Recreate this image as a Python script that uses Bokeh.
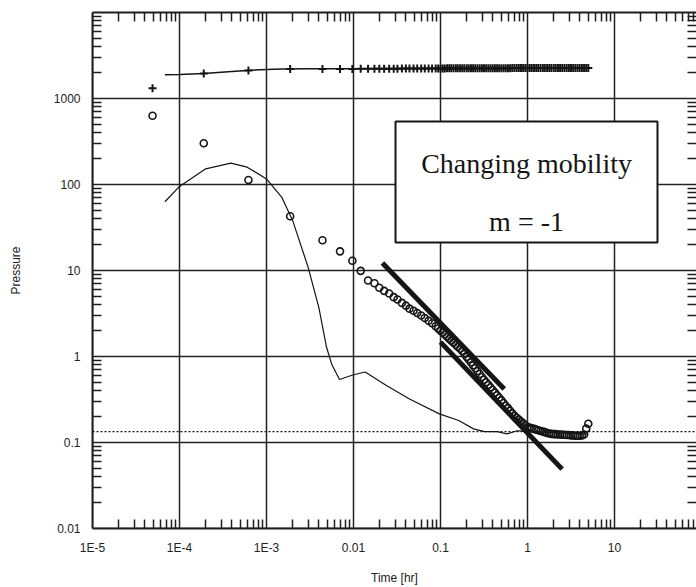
from bokeh.plotting import figure
from bokeh.models import FixedTicker, LogAxis, BoxAnnotation, Label, Span, CustomJSTickFormatter
from bokeh.embed import file_html
from bokeh.resources import INLINE

# ---------------- data ----------------
# measured points: time [hr], pressure ("+"), derivative ("o")
t_data = [4.9e-5, 1.9e-4, 6.2e-4, 1.87e-3, 4.4e-3, 7.0e-3, 9.7e-3, 0.0121, 0.0147, 0.0174,
          0.0198, 0.0225, 0.0257, 0.029, 0.032, 0.036, 0.040, 0.044, 0.049, 0.054,
          0.060, 0.066, 0.073, 0.080, 0.088, 0.094,
          0.100, 0.106, 0.112, 0.119, 0.126, 0.133, 0.141, 0.150, 0.158, 0.168,
          0.178, 0.188, 0.200, 0.211, 0.224, 0.237, 0.251, 0.266, 0.282, 0.299,
          0.316, 0.335, 0.355, 0.376, 0.398, 0.422, 0.447, 0.473, 0.501, 0.531,
          0.562, 0.596, 0.631, 0.668, 0.708, 0.750, 0.794, 0.841, 0.891, 0.944,
          1.00, 1.06, 1.12, 1.19, 1.26, 1.33, 1.41, 1.50, 1.58, 1.68,
          1.78, 1.88, 2.00, 2.11, 2.24, 2.37, 2.51, 2.66, 2.82, 2.99,
          3.16, 3.35, 3.55, 3.76, 3.98, 4.22, 4.47, 4.73, 5.0]
p_data = [1320, 1950, 2120, 2200, 2200, 2210, 2210, 2215, 2215, 2220,
          2220, 2220, 2225, 2225, 2225, 2230, 2230, 2230, 2230, 2235,
          2235, 2235, 2235, 2240, 2240, 2240,
          2240, 2240, 2240, 2242, 2242, 2244, 2244, 2245, 2245, 2246,
          2246, 2247, 2248, 2248, 2249, 2250, 2250, 2250, 2251, 2251,
          2252, 2252, 2252, 2253, 2253, 2253, 2254, 2254, 2254, 2255,
          2255, 2255, 2255, 2256, 2256, 2256, 2256, 2257, 2257, 2257,
          2257, 2258, 2258, 2258, 2258, 2258, 2259, 2259, 2259, 2259,
          2259, 2260, 2260, 2260, 2260, 2260, 2260, 2260, 2261, 2261,
          2261, 2261, 2261, 2262, 2262, 2262, 2262, 2262, 2262]
d_data = [630, 302, 113, 42.8, 22.5, 16.7, 13.0, 9.9, 7.65, 7.1,
          6.3, 5.8, 5.4, 4.9, 4.6, 4.2, 3.9, 3.6, 3.4, 3.2,
          3.0, 2.8, 2.6, 2.44, 2.25, 2.12,
          2.00, 1.90, 1.80, 1.70, 1.61, 1.53, 1.45, 1.37, 1.30, 1.23,
          1.16, 1.08, 0.99, 0.925, 0.853, 0.789, 0.730, 0.676, 0.625, 0.577,
          0.536, 0.501, 0.468, 0.437, 0.407, 0.380, 0.355, 0.331, 0.309, 0.288,
          0.268, 0.251, 0.234, 0.218, 0.204, 0.194, 0.185, 0.175, 0.167, 0.159,
          0.151, 0.149, 0.146, 0.144, 0.141, 0.139, 0.136, 0.134, 0.132, 0.129,
          0.127, 0.126, 0.125, 0.125, 0.124, 0.124, 0.123, 0.123, 0.122, 0.122,
          0.121, 0.121, 0.120, 0.120, 0.120, 0.121, 0.124, 0.145, 0.165]

# model pressure curve
model_t = [6.8e-5, 1e-4, 1.9e-4, 4e-4, 6e-4, 1e-3, 1.5e-3, 3e-3, 0.01, 0.1, 1.0, 5.0]
model_p = [1890, 1900, 1950, 2060, 2120, 2180, 2210, 2215, 2220, 2240, 2255, 2260]

# model derivative curve
mderiv_t = [6.8e-5, 1e-4, 2e-4, 3.9e-4, 6e-4, 1e-3, 1.5e-3, 2e-3, 3e-3, 4e-3,
            4.9e-3, 5.6e-3, 6.9e-3, 9.8e-3, 0.0136, 0.0239, 0.044, 0.097, 0.162, 0.24,
            0.32, 0.45, 0.58, 0.76, 1.0, 2.0, 5.0]
mderiv_p = [63, 95, 152, 177, 159, 116, 71, 38, 11, 3.7,
            1.28, 0.82, 0.54, 0.61, 0.66, 0.46, 0.32, 0.215, 0.18, 0.144,
            0.134, 0.134, 0.126, 0.137, 0.135, 0.13, 0.125]

# straight slope lines (m = -1)
slope1_t = [0.0215, 0.54]
slope1_p = [12.2, 0.42]
slope2_t = [0.1, 2.5]
slope2_p = [1.47, 0.049]

ref_level = 0.134

x_decades = [1e-5, 1e-4, 1e-3, 1e-2, 1e-1, 1, 10, 100]
x_labels = ["1E-5", "1E-4", "1E-3", "0.01", "0.1", "1", "10", "100"]
y_decades = [0.01, 0.1, 1, 10, 100, 1000, 10000]
y_labels = ["0.01", "0.1", "1", "10", "100", "1000", ""]

annot_title = "Changing mobility"
annot_sub = "m = -1"

# ---------------- figure ----------------
W, H = 696, 587
LEFT, TOP, BOTTOM = 92, 12, 59
FRAME_W = W - LEFT
x_end = 10 ** (-5 + FRAME_W / 87.0)

p = figure(width=W, height=H, x_axis_type="log", y_axis_type="log",
           x_range=(0.9999e-5, x_end), y_range=(0.009999, 10000),
           output_backend="svg", toolbar_location=None,
           min_border_left=LEFT, min_border_right=0, min_border_top=TOP,
           min_border_bottom=BOTTOM)
p.outline_line_color = None
p.background_fill_color = "white"
p.border_fill_color = "white"

minor_x = [m * d for d in x_decades[:-1] for m in range(2, 10)]
minor_y = [m * d for d in y_decades[:-1] for m in range(2, 10)]
xt = FixedTicker(ticks=x_decades, minor_ticks=minor_x)
yt = FixedTicker(ticks=y_decades, minor_ticks=minor_y)

def fmt(labels, e0):
    return CustomJSTickFormatter(args=dict(labels=labels, e0=e0), code="""
        const e = Math.round(Math.log10(tick));
        const i = e - e0;
        return (i >= 0 && i < labels.length) ? labels[i] : "";
    """)

blank = CustomJSTickFormatter(code="return '';")
font = "Liberation Sans"
axc = "#1e1e1e"

for ax, ticker, f in ((p.xaxis[0], xt, fmt(x_labels, -5)), (p.yaxis[0], yt, fmt(y_labels, -2))):
    ax.ticker = ticker
    ax.formatter = f
    ax.major_tick_in = 0
    ax.major_tick_out = 0
    ax.minor_tick_in = 9
    ax.minor_tick_out = 0
    ax.minor_tick_line_width = 1.5
    ax.minor_tick_line_color = axc
    ax.axis_line_width = 2
    ax.axis_line_color = axc
    ax.major_label_text_font = font
    ax.major_label_text_font_size = "12px"
    ax.major_label_text_color = "#222222"
    ax.axis_label_text_font = font
    ax.axis_label_text_font_size = "12px"
    ax.axis_label_text_font_style = "normal"
    ax.axis_label_text_color = "#222222"

p.xaxis.axis_label = "Time [hr]"
p.yaxis.axis_label = "Pressure"
p.xaxis.major_label_standoff = 12
p.yaxis.major_label_standoff = 12
p.xaxis.axis_label_standoff = 13
p.yaxis.axis_label_standoff = 28
p.yaxis.major_label_orientation = "horizontal"

top_ax = LogAxis(ticker=xt, formatter=blank, major_tick_in=0, major_tick_out=0,
                 minor_tick_in=9, minor_tick_out=0, minor_tick_line_width=1.5,
                 minor_tick_line_color=axc, axis_line_width=2, axis_line_color=axc,
                 major_label_text_font_size="0px", major_label_standoff=0)
p.add_layout(top_ax, "above")
right_ax = LogAxis(ticker=yt, formatter=blank, major_tick_in=0, major_tick_out=0,
                   minor_tick_in=9, minor_tick_out=0, minor_tick_line_width=1.5,
                   minor_tick_line_color=axc, axis_line_color=None,
                   major_label_text_font_size="0px", major_label_standoff=0)
p.add_layout(right_ax, "right")

p.xgrid.ticker = xt
p.ygrid.ticker = yt
for g in (p.xgrid[0], p.ygrid[0]):
    g.grid_line_color = "#222222"
    g.grid_line_width = 1.5
    g.minor_grid_line_color = None

ink = "#151515"
p.add_layout(Span(location=ref_level, dimension="width", line_color=ink,
                  line_width=1.2, line_dash="2 2"))

p.line(model_t, model_p, line_color=ink, line_width=1.5)
p.line(mderiv_t, mderiv_p, line_color=ink, line_width=1.2)
p.scatter(t_data, p_data, marker="cross", size=8, line_color=ink, line_width=2)
p.scatter(t_data, d_data, marker="circle", size=7, fill_color=None, line_color=ink, line_width=1.6)
p.line(slope1_t, slope1_p, line_color=ink, line_width=5)
p.line(slope2_t, slope2_p, line_color=ink, line_width=5)

# annotation box
p.add_layout(BoxAnnotation(left=0.0304, right=31.2, bottom=21.2, top=541,
                           fill_color="white", fill_alpha=1.0,
                           line_color=ink, line_alpha=1.0, line_width=2))
p.add_layout(Label(x=0.975, y=175, text=annot_title, text_align="center",
                   text_baseline="middle", text_font="Liberation Serif",
                   text_font_size="28px", text_color=ink))
p.add_layout(Label(x=0.975, y=37, text=annot_sub, text_align="center",
                   text_baseline="middle", text_font="Liberation Serif",
                   text_font_size="28px", text_color=ink))

open("out.html", "w").write(file_html(p, INLINE))
